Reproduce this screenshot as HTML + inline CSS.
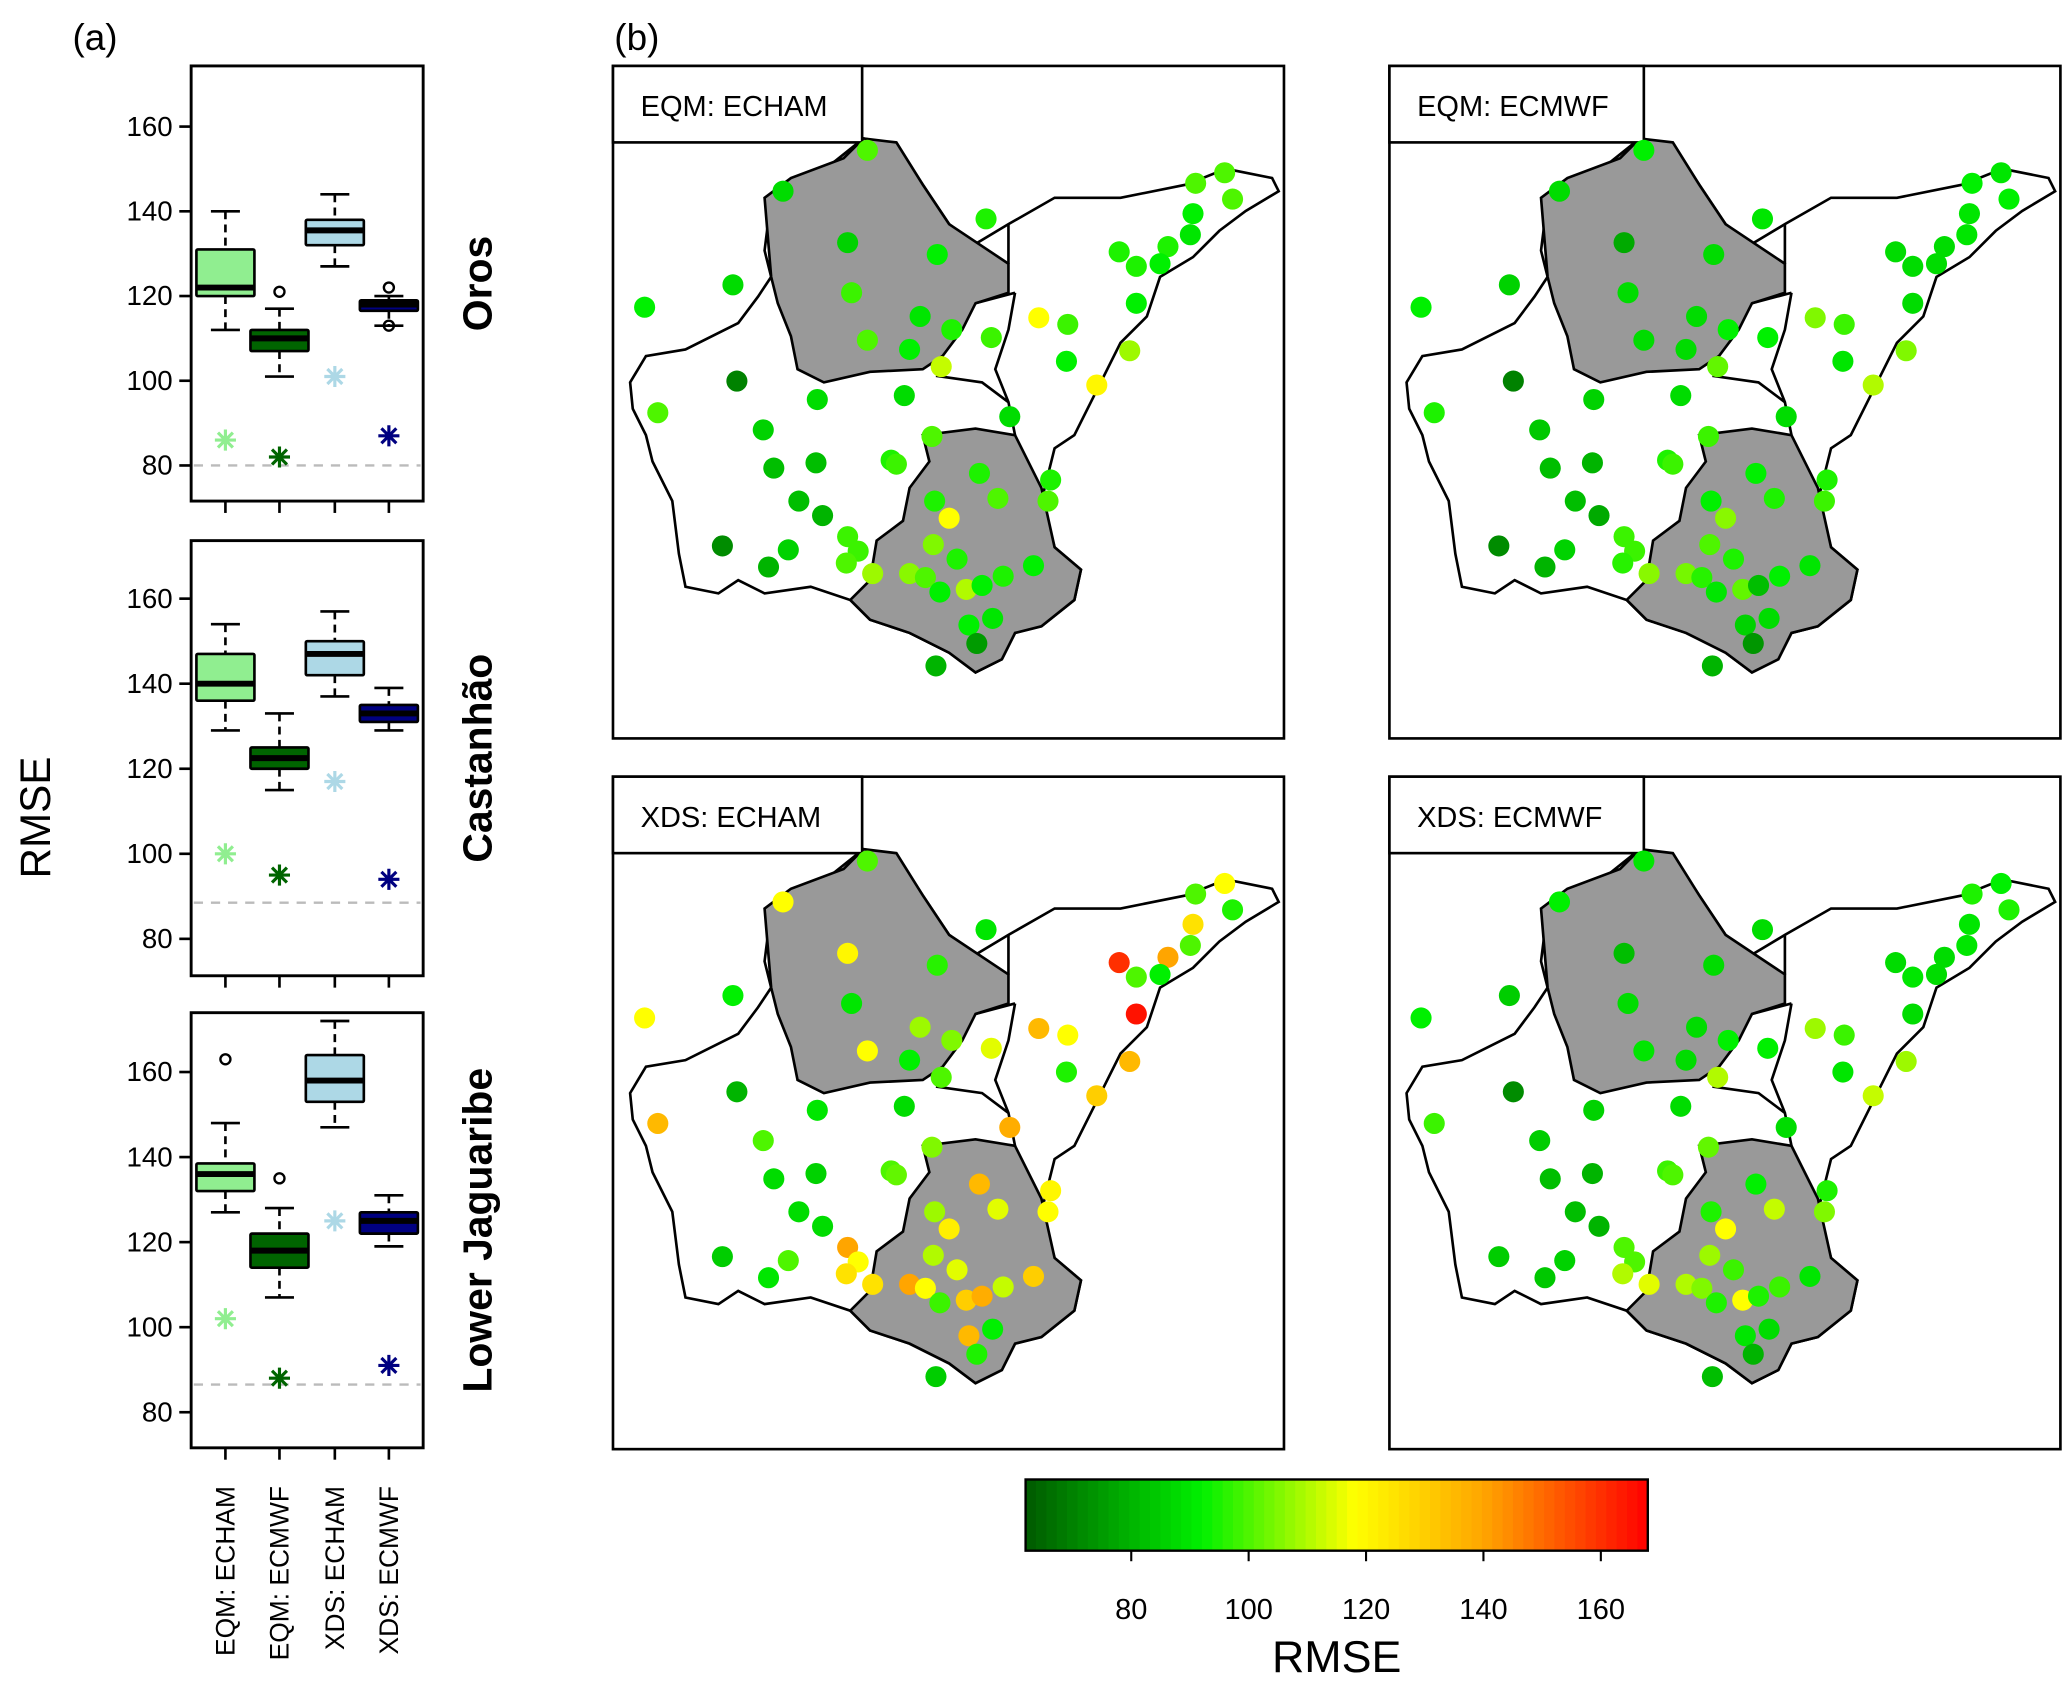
<!DOCTYPE html>
<html><head><meta charset="utf-8"><style>
html,body{margin:0;padding:0;background:#fff;}
svg{display:block;font-family:"Liberation Sans",Arial,sans-serif;}
</style></head><body>
<svg id="fig" xmlns="http://www.w3.org/2000/svg" width="2067" height="1701" viewBox="0 0 1568 1290" preserveAspectRatio="none">
<text x="55" y="38" font-size="28">(a)</text>
<text x="466" y="38" font-size="28">(b)</text>
<text transform="translate(38,620) rotate(-90)" text-anchor="middle" font-size="32">RMSE</text>
</svg>
<script>
const models=["EQM: ECHAM","EQM: ECMWF","XDS: ECHAM","XDS: ECMWF"];
const boxColors=["#90EE90","#006400","#ADD8E6","#000080"];
const basins=["Oros","Castanhão","Lower Jaguaribe"];
// [whiskerLo, q1, median, q3, whiskerHi]
const oros=[[112,120,122,131,140],[101,107,110,112,117],[127,132,135.5,138,144],[113,116.5,118,119,120]];
const castanhao=[[129,136,140,147,154],[115,120,122.5,125,133],[137,142,147,150,157],[129,131,133,135,139]];
const lowerJ=[[127,132,136,138.5,148],[107,114,118,122,128],[147,153,158,164,172],[119,122,125,127,131]];
const outliersOros=[[],[121],[],[122,113]];
const outliersCast=[[],[],[],[]];
const outliersLow=[[163],[135],[],[]];
const starsOros=[86,82,101,87];
const starsCast=[100,95,117,94];
const starsLow=[102,88,125,91];
const refLines=[80,88.5,86.5];
const yTicks=[80,100,120,140,160];
const cbTicks=[80,100,120,140,160];

const stX=[193,129,283,442,464,470,440,438,178,246,384,421,397,415,91,24,181,397,233,257,323,345,193,225,287,392,344,249,94,367,155,221,34,301,114,242,122,154,211,215,278,332,141,244,292,330,159,255,178,243,83,186,133,177,118,261,319,197,225,237,268,296,280,248,270,288,276,245];
const stY=[64,95,116,89,81,101,112,128,134,143,141,137,152,150,166,183,172,180,190,200,191,196,208,215,206,216,224,228,239,242,253,250,263,266,276,281,305,301,299,302,309,314,330,330,328,330,341,343,357,363,364,368,367,377,380,374,379,385,385,388,397,387,394,399,424,419,438,455];
const vEqmEcham=[100,88,95,100,100,100,92,90,86,92,95,95,95,92,88,92,98,92,90,95,118,98,100,92,98,108,92,112,70,120,88,88,100,88,86,100,82,82,95,98,95,95,82,95,100,100,80,118,98,105,72,98,86,100,80,95,92,108,106,100,110,95,92,92,92,90,75,80];
const vEqmEcmwf=[92,88,90,92,90,92,90,90,78,88,88,88,88,88,86,92,88,88,88,92,105,98,88,88,92,105,90,102,70,110,86,88,95,88,84,98,82,80,95,98,92,95,82,92,95,98,78,106,98,100,72,98,86,96,80,95,90,106,104,96,102,92,82,90,86,88,74,80];
const vXdsEcham=[100,118,90,100,118,95,125,100,120,96,160,140,100,92,92,118,90,165,108,105,135,118,118,92,115,135,95,100,80,130,90,88,135,138,100,105,88,86,100,102,135,120,88,108,115,118,88,122,140,110,85,118,100,125,90,115,130,125,140,118,130,112,138,98,135,92,95,85];
const vXdsEcmwf=[90,92,88,95,92,95,90,90,82,88,88,88,90,88,85,92,88,88,88,92,108,98,90,88,92,108,90,110,72,112,86,88,98,88,85,102,82,80,98,100,92,95,82,95,112,105,80,118,100,108,85,100,86,110,84,98,90,115,110,105,118,98,95,95,90,88,80,82];
const mapVals=[vEqmEcham,vEqmEcmwf,vXdsEcham,vXdsEcmwf];
const mapTitles=["EQM: ECHAM","EQM: ECMWF","XDS: ECHAM","XDS: ECMWF"];

const svg=document.getElementById('fig');
const NS="http://www.w3.org/2000/svg";
function mk(tag,attrs,parent){const e=document.createElementNS(NS,tag);for(const k in attrs)e.setAttribute(k,attrs[k]);(parent||svg).appendChild(e);return e;}

const panels=[{y0:50,y1:380,top160:96,d:oros,o:outliersOros,s:starsOros},
 {y0:410,y1:740,top160:454,d:castanhao,o:outliersCast,s:starsCast},
 {y0:768,y1:1098,top160:813,d:lowerJ,o:outliersLow,s:starsLow}];
const bx=[171,212,254,295];
const PX0=145,PX1=321;
panels.forEach((p,pi)=>{
  const k=(p.y0===50)?3.2125:3.225;
  const Y=v=>p.top160+(160-v)*k;
  const g=mk('g',{});
  
  
  const fr=mk('rect',{x:PX0,y:p.y0,width:PX1-PX0,height:p.y1-p.y0,fill:'none',stroke:'#000','stroke-width':2.2},g);
  
  
  yTicks.forEach(t=>{const y=Y(t);if(y<p.y0||y>p.y1)return;
    const l=mk('line',{x1:PX0-9,x2:PX0,y1:y,y2:y,stroke:'#000','stroke-width':2},g);
    
    const tx=mk('text',{x:PX0-14,y:y+7,'text-anchor':'end','font-size':21},g);tx.textContent=t;
    });
  bx.forEach(x=>{const l=mk('line',{x1:x,x2:x,y1:p.y1,y2:p.y1+9,stroke:'#000','stroke-width':2},g);
    });
  const rl=mk('line',{x1:PX0+2,x2:PX1-2,y1:Y(refLines[pi]),y2:Y(refLines[pi]),stroke:'#bbb','stroke-width':1.8,'stroke-dasharray':'7,6'},g);
  
  p.d.forEach((b,i)=>{const x=bx[i],w=22;
    const wh=mk('path',{d:`M${x},${Y(b[4])}V${Y(b[3])}M${x},${Y(b[1])}V${Y(b[0])}`,stroke:'#000','stroke-width':2,'stroke-dasharray':'6,4',fill:'none'},g);
    
    const cap=mk('path',{d:`M${x-11},${Y(b[4])}H${x+11}M${x-11},${Y(b[0])}H${x+11}`,stroke:'#000','stroke-width':2},g);
    
    const r=mk('rect',{x:x-w,y:Y(b[3]),width:2*w,height:Math.max(2,Y(b[1])-Y(b[3])),fill:boxColors[i],stroke:'#000','stroke-width':2,rx:1},g);
    
    const m=mk('line',{x1:x-w,x2:x+w,y1:Y(b[2]),y2:Y(b[2]),stroke:'#000','stroke-width':4.5},g);
    
    p.o[i].forEach(v=>{const c=mk('circle',{cx:x,cy:Y(v),r:3.8,fill:'none',stroke:'#000','stroke-width':1.8},g);
      });
    const sy=Y(p.s[i]);let d='';
    for(let a=0;a<4;a++){const an=a*Math.PI/4+Math.PI/2;d+=`M${x+8*Math.cos(an)},${sy+8*Math.sin(an)}L${x-8*Math.cos(an)},${sy-8*Math.sin(an)}`;}
    const st=mk('path',{d:d,stroke:boxColors[i],'stroke-width':2.4},g);
    
  });
  const bl=mk('text',{transform:`translate(373,${(p.y0+p.y1)/2}) rotate(-90)`,'text-anchor':'middle','font-size':31,'font-weight':'bold'},g);
  bl.textContent=basins[pi];
  
});
models.forEach((m,i)=>{const t=mk('text',{transform:`translate(${bx[i]+7},1127) rotate(-90)`,'text-anchor':'end','font-size':20});
  t.textContent=m;});

const CMIN=62,CMAX=168;
const stops=[[62,[0,90,0]],[92,[0,240,0]],[118,[255,255,0]],[140,[255,165,0]],[168,[255,0,0]]];
function col(v){v=Math.max(CMIN,Math.min(CMAX,v));for(let i=0;i<stops.length-1;i++){const[a,ca]=stops[i],[b,cb]=stops[i+1];if(v<=b){const t=(v-a)/(b-a);return `rgb(${ca.map((c,j)=>Math.round(c+(cb[j]-c)*t)).join(',')})`;}}return 'red';}

const outer="M190,55 L215,60 L235,90 L255,120 L275,135 L300,120 L335,100 L385,100 L435,90 L465,78 L500,85 L505,95 L480,110 L460,125 L440,145 L415,160 L405,190 L385,210 L365,250 L350,280 L335,290 L325,330 L335,365 L355,382 L350,405 L325,425 L305,430 L295,450 L275,460 L255,445 L225,430 L195,420 L180,405 L150,395 L115,400 L95,390 L80,400 L55,395 L50,370 L45,330 L30,300 L25,280 L15,260 L13,240 L25,220 L55,215 L95,195 L110,175 L120,160 L115,140 L120,100 L135,90 L165,75 Z";
const gray1="M115,100 L135,85 L175,70 L190,55 L215,58 L235,90 L255,120 L300,150 L300,172 L275,180 L265,200 L250,220 L235,230 L195,232 L160,240 L140,230 L135,205 L125,180 L120,160 Z";
const gray2="M235,280 L275,275 L305,280 L325,320 L335,365 L355,382 L350,405 L325,425 L305,430 L295,450 L275,460 L255,445 L225,430 L195,420 L180,405 L195,390 L200,360 L220,345 L225,320 L240,300 Z";
const inner="M275,180 L305,172 M245,235 L280,240 L300,255 L305,280 M300,150 L300,120 M305,172 L300,200 L290,230 L300,255";
const mapPos=[[465,50],[1054,50],[465,589],[1054,589]];
mapPos.forEach((mp,mi)=>{
  const g=mk('g',{transform:`translate(${mp[0]},${mp[1]})`});
  
  const fr=mk('rect',{x:0,y:0,width:509,height:510,fill:'#fff',stroke:'#000','stroke-width':2},g);
  
  const o=mk('path',{d:outer,fill:'#fff',stroke:'#000','stroke-width':2},g);
  
  [gray1,gray2].forEach((d,k)=>{const p=mk('path',{d:d,fill:'#999',stroke:'#000','stroke-width':2},g);
    });
  const il=mk('path',{d:inner,fill:'none',stroke:'#000','stroke-width':2},g);
  
  const tw=mi%2?193:189;
  const tb=mk('rect',{x:0,y:0,width:tw,height:58,fill:'#fff',stroke:'#000','stroke-width':2},g);
  
  const tt=mk('text',{x:21,y:38,'font-size':22},g);tt.textContent=mapTitles[mi];
  
  const vals=mapVals[mi];
  stX.forEach((x,i)=>{const c=mk('circle',{cx:x,cy:stY[i],r:8,fill:col(vals[i])},g);
    });
});

const CBX0=778,CBX1=1250,CBY0=1122,CBY1=1176;
const CX=v=>CBX0+(v-CMIN)/(CMAX-CMIN)*(CBX1-CBX0);
const cbg=mk('g',{});

const N=60;
for(let i=0;i<N;i++){const v0=CMIN+(CMAX-CMIN)*i/N,v1=CMIN+(CMAX-CMIN)*(i+1)/N;
  const r=mk('rect',{x:CX(v0),y:CBY0,width:CX(v1)-CX(v0)+0.6,height:CBY1-CBY0,fill:col((v0+v1)/2)},cbg);
  }
const cbf=mk('rect',{x:CBX0,y:CBY0,width:CBX1-CBX0,height:CBY1-CBY0,fill:'none',stroke:'#000','stroke-width':1.8},cbg);

cbTicks.forEach(t=>{const x=CX(t);
  const l=mk('line',{x1:x,x2:x,y1:CBY1,y2:CBY1+8,stroke:'#000','stroke-width':1.6},cbg);
  
  const tx=mk('text',{x:x,y:1228,'text-anchor':'middle','font-size':22},cbg);tx.textContent=t;
  });
const ct=mk('text',{x:1014,y:1268,'text-anchor':'middle','font-size':34},cbg);ct.textContent='RMSE';

</script>
</body></html>
